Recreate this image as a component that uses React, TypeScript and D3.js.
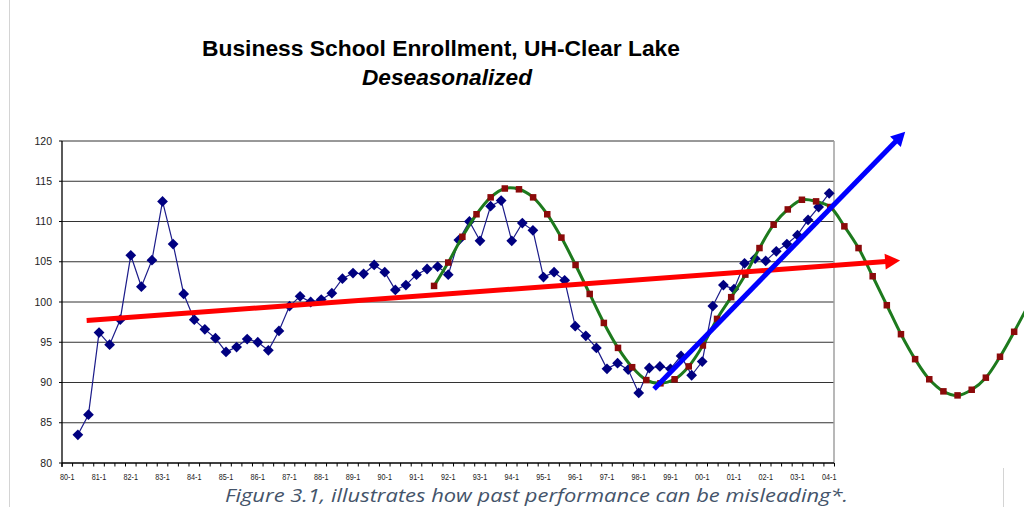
import * as d3 from "d3";

const W = 1024;
const H = 507;

// category axis: 80-1 .. 04-1, three terms a year, labels on every first term
const YEAR_LABELS = [
  "80-1", "81-1", "82-1", "83-1", "84-1", "85-1", "86-1", "87-1", "88-1", "89-1",
  "90-1", "91-1", "92-1", "93-1", "94-1", "95-1", "96-1", "97-1", "98-1", "99-1",
  "00-1", "01-1", "02-1", "03-1", "04-1",
];
const TERMS_PER_YEAR = 3;
const N_CATS = (YEAR_LABELS.length - 1) * TERMS_PER_YEAR + 1;

// deseasonalized enrollment index, starting at 80-2
const FIRST_CAT = 1;
const ENROLLMENT = [
  83.5, 86.0, 96.2, 94.7, 97.8, 105.8, 101.9, 105.2, 112.5, 107.2,
  101.0, 97.8, 96.6, 95.5, 93.8, 94.4, 95.4, 95.0, 94.0, 96.4,
  99.5, 100.7, 100.0, 100.3, 101.1, 102.9, 103.6, 103.5, 104.6, 103.7,
  101.5, 102.1, 103.4, 104.1, 104.4, 103.4, 107.7, 110.0, 107.6, 111.9,
  112.6, 107.6, 109.8, 108.9, 103.1, 103.7, 102.7, 97.0, 95.8, 94.3,
  91.7, 92.4, 91.6, 88.7, 91.8, 92.0, 91.7, 93.3, 90.9, 92.6,
  99.5, 102.1, 101.6, 104.8, 105.4, 105.1, 106.3, 107.2, 108.3, 110.2,
  111.8, 113.5,
];

// hand-drawn cycle overlay (runs past the plot)
const CYCLE_START = 34.66; // in category units
const CYCLE_STEP = 1.337;
const CYCLE = [
  102.0, 104.9, 108.1, 110.9, 113.0, 114.1, 114.0, 113.0, 110.9, 108.0,
  104.6, 101.0, 97.4, 94.3, 91.9, 90.3, 89.9, 90.4, 92.0, 94.6,
  97.9, 100.6, 103.4, 106.7, 109.6, 111.5, 112.7, 112.5, 111.8, 109.4,
  106.7, 103.2, 99.6, 96.0, 92.9, 90.4, 88.9, 88.4, 89.1, 90.6,
  93.2, 96.3, 99.6,
];

// trend arrows: [category, value] start -> tip
const TREND_FLAT: [number, number][] = [[1.83, 97.7], [78.7, 105.15]];
const TREND_STEEP: [number, number][] = [[55.45, 89.2], [79.18, 121.15]];

const Y_TICKS = [80, 85, 90, 95, 100, 105, 110, 115, 120];

const FONT = "'Liberation Sans', Arial, sans-serif";

const x = d3.scaleLinear().domain([-0.5, N_CATS - 0.5]).range([62, 834.5]);
const y = d3.scaleLinear().domain([80, 120]).range([463, 141]);

function Arrow({ pts, color, width, headLen, headHalf }: {
  pts: [number, number][]; color: string; width: number; headLen: number; headHalf: number;
}) {
  const [x0, y0] = [x(pts[0][0]), y(pts[0][1])];
  const [x1, y1] = [x(pts[1][0]), y(pts[1][1])];
  const len = Math.hypot(x1 - x0, y1 - y0);
  const ux = (x1 - x0) / len, uy = (y1 - y0) / len;
  const bx = x1 - ux * headLen, by = y1 - uy * headLen;
  const head = [
    [x1, y1],
    [bx - uy * headHalf, by + ux * headHalf],
    [bx + uy * headHalf, by - ux * headHalf],
  ].map((p) => p.join(",")).join(" ");
  return (
    <g>
      <line x1={x0} y1={y0} x2={bx + ux} y2={by + uy} stroke={color} strokeWidth={width} />
      <polygon points={head} fill={color} />
    </g>
  );
}

export default function App() {
  const dataLine = d3.line<number>()
    .x((_d, i) => x(FIRST_CAT + i))
    .y((d) => y(d))(ENROLLMENT) ?? "";
  const cycleX = (i: number) => x(CYCLE_START + i * CYCLE_STEP);
  const cycleLine = d3.line<number>()
    .x((_d, i) => cycleX(i))
    .y((d) => y(d))
    .curve(d3.curveCatmullRom)(CYCLE) ?? "";
  const diamond = d3.symbol(d3.symbolSquare, 58)() ?? "";
  const catTicks = d3.range(N_CATS + 1).map((i) => x(i - 0.5));

  return (
    <svg width={W} height={H} style={{ position: "fixed", left: 0, top: 0, background: "#fff" }}>
      <rect width={W} height={H} fill="#fff" />
      <line x1={9.5} x2={9.5} y1={0} y2={H} stroke="#d4d4d4" />
      <line x1={1003.5} x2={1003.5} y1={468} y2={H} stroke="#d4d4d4" />

      <text x={202} y={56} fontFamily={FONT} fontWeight="bold" fontSize={22.5} textLength={478} lengthAdjust="spacingAndGlyphs" fill="#000">
        Business School Enrollment, UH-Clear Lake
      </text>
      <text x={362} y={85} fontFamily={FONT} fontWeight="bold" fontStyle="italic" fontSize={22.5} textLength={170} lengthAdjust="spacingAndGlyphs" fill="#000">
        Deseasonalized
      </text>

      {/* grid */}
      {Y_TICKS.filter((t) => t > 80).map((t) => (
        <line key={t} x1={62} x2={834} y1={y(t)} y2={y(t)} stroke="#333" strokeWidth={1} />
      ))}
      <line x1={834} x2={834} y1={y(120)} y2={y(80)} stroke="#a0a0a0" strokeWidth={1.5} />

      {/* axes */}
      <line x1={62} x2={62} y1={y(120)} y2={y(80) + 4} stroke="#000" strokeWidth={1.3} />
      <line x1={62} x2={834} y1={y(80)} y2={y(80)} stroke="#000" strokeWidth={1.3} />
      {Y_TICKS.map((t) => (
        <g key={t}>
          <line x1={59} x2={62} y1={y(t)} y2={y(t)} stroke="#000" />
          <text x={52} y={y(t)} dy="0.35em" textAnchor="end" fontFamily={FONT} fontSize={10.5} fill="#222">{t}</text>
        </g>
      ))}
      {catTicks.map((tx, i) => (
        <line key={i} x1={tx} x2={tx} y1={y(80)} y2={y(80) + 3.5} stroke="#000" />
      ))}
      {YEAR_LABELS.map((lab, i) => (
        <text key={lab} x={x(i * TERMS_PER_YEAR) - 7.25} y={480} fontFamily={FONT} fontSize={9.6} textLength={14.5} lengthAdjust="spacingAndGlyphs" fill="#222">{lab}</text>
      ))}

      {/* enrollment series */}
      <path d={dataLine} fill="none" stroke="#1c1c8a" strokeWidth={1.2} />
      {ENROLLMENT.map((v, i) => (
        <path key={i} d={diamond} transform={`translate(${x(FIRST_CAT + i)},${y(v)}) rotate(45)`} fill="#000080" />
      ))}

      {/* cycle overlay */}
      <path d={cycleLine} fill="none" stroke="#1d7a1d" strokeWidth={3} />
      {CYCLE.map((v, i) => (
        <rect key={i} x={cycleX(i) - 3.25} y={y(v) - 3.25} width={6.5} height={6.5} fill="#8b0a0a" />
      ))}

      <Arrow pts={TREND_FLAT} color="#ff0000" width={5} headLen={15} headHalf={8} />
      <Arrow pts={TREND_STEEP} color="#0000ff" width={5} headLen={14} headHalf={7.5} />

      <text x={225} y={502} fontFamily="'Open Sans', 'Noto Sans', sans-serif" fontStyle="italic" fontSize={19} textLength={623} lengthAdjust="spacingAndGlyphs" fill="#44546A">
        Figure 3.1, illustrates how past performance can be misleading*.
      </text>
    </svg>
  );
}
